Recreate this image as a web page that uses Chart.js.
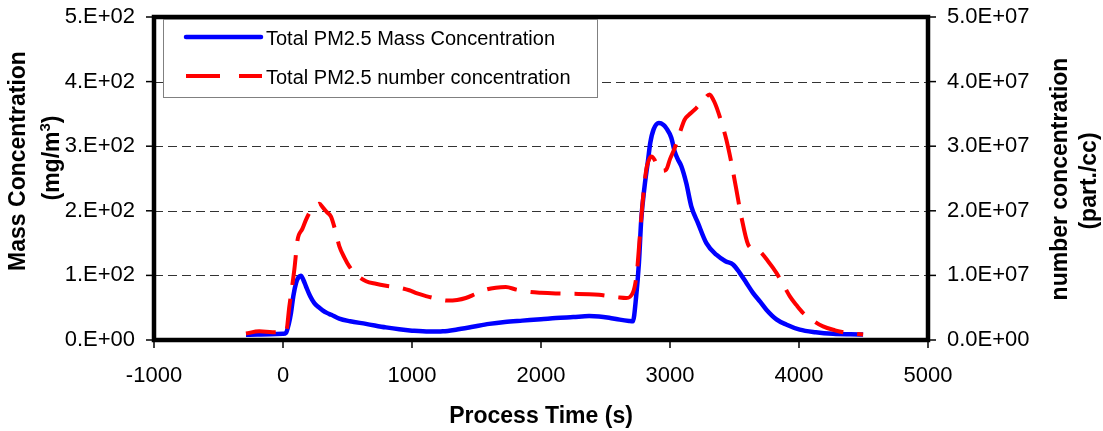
<!DOCTYPE html>
<html>
<head>
<meta charset="utf-8">
<title>PM2.5 mass and number concentration</title>
<script src="https://cdn.jsdelivr.net/npm/chart.js@4/dist/chart.umd.min.js"></script>
<style>
  html, body { margin: 0; padding: 0; background: #ffffff; }
  #wrap { width: 1103px; height: 431px; }
  canvas { display: block; }
</style>
</head>
<body>
<div id="wrap"><canvas id="chart" width="1103" height="431"></canvas></div>
<script>
// Process time (s) and total PM2.5 mass concentration (mg/m3)
const massTime = [-287, -200, -100, 0, 23, 45, 62, 80, 101, 120, 139, 158, 178, 210, 243, 275, 307, 340, 374, 436, 520, 643, 798, 901, 1000, 1133, 1240, 1340, 1460, 1598, 1720, 1856, 2000, 2115, 2250, 2373, 2450, 2528, 2610, 2683, 2712, 2738, 2759, 2777, 2803, 2829, 2847, 2873, 2914, 2950, 2971, 3010, 3036, 3060, 3088, 3126, 3165, 3217, 3282, 3359, 3430, 3488, 3540, 3590, 3643, 3700, 3747, 3825, 3900, 4006, 4130, 4264, 4400, 4497];
const massValue = [8, 8.5, 9, 9.5, 11, 25, 42, 68, 88, 97, 99.5, 93, 83, 68, 57, 51, 46, 42, 39, 33, 29, 25, 19.5, 16.5, 14.5, 13, 13.5, 16, 20, 25, 28, 30, 32, 34, 35.5, 37, 36.5, 34.5, 31.5, 29.5, 29, 68, 119, 186, 238, 277, 305, 326, 336, 333, 328, 313, 292, 280, 269, 243, 207, 181, 150, 132, 122, 117, 104, 89, 73, 59, 47, 32, 24, 16, 12, 9.6, 8.8, 8.5];

// Process time (s) and total PM2.5 number concentration (part./cc)
const numTime = [-287, -184, -81, 23, 49, 88, 113, 150, 178, 205, 230, 255, 282, 310, 340, 372, 405, 437, 475, 514, 570, 644, 720, 799, 902, 979, 1040, 1108, 1190, 1275, 1350, 1417, 1490, 1572, 1650, 1727, 1810, 1908, 2000, 2115, 2250, 2373, 2450, 2528, 2600, 2661, 2712, 2743, 2764, 2785, 2816, 2835, 2855, 2880, 2906, 2940, 2971, 3000, 3036, 3075, 3113, 3160, 3204, 3255, 3307, 3340, 3372, 3405, 3437, 3476, 3514, 3553, 3605, 3650, 3696, 3760, 3825, 3880, 3928, 3980, 4031, 4110, 4186, 4280, 4368, 4440, 4497];
const numValue = [1.0e6, 1.35e6, 1.2e6, 1.2e6, 5.2e6, 1.09e7, 1.55e7, 1.72e7, 1.86e7, 1.97e7, 2.04e7, 2.08e7, 2.11e7, 2.05e7, 1.98e7, 1.91e7, 1.70e7, 1.45e7, 1.28e7, 1.14e7, 1.01e7, 9.1e6, 8.7e6, 8.4e6, 8.1e6, 7.7e6, 7.2e6, 6.8e6, 6.4e6, 6.1e6, 6.2e6, 6.5e6, 7.1e6, 7.8e6, 8.1e6, 8.2e6, 7.8e6, 7.45e6, 7.3e6, 7.2e6, 7.15e6, 7.1e6, 7.0e6, 6.8e6, 6.6e6, 6.5e6, 7.3e6, 1.04e7, 1.55e7, 2.07e7, 2.64e7, 2.78e7, 2.84e7, 2.79e7, 2.66e7, 2.62e7, 2.64e7, 2.80e7, 2.97e7, 3.20e7, 3.41e7, 3.51e7, 3.59e7, 3.70e7, 3.80e7, 3.70e7, 3.54e7, 3.33e7, 3.10e7, 2.74e7, 2.33e7, 1.91e7, 1.48e7, 1.41e7, 1.37e7, 1.22e7, 1.04e7, 8.5e6, 6.8e6, 5.4e6, 4.2e6, 3.0e6, 2.1e6, 1.5e6, 1.1e6, 9.5e5, 8.5e5];

// Axis ranges and tick steps
const timeTicks = [-1000, 0, 1000, 2000, 3000, 4000, 5000];
const massTicks = [0, 100, 200, 300, 400, 500];
const numTicks = [0, 1e7, 2e7, 3e7, 4e7, 5e7];

const massLabel = 'Total PM2.5 Mass Concentration';
const numLabel = 'Total PM2.5 number concentration';

const FONT = '"Liberation Sans", Arial, Helvetica, sans-serif';

// Excel-style scientific tick text: 5.E+02 / 5.0E+07
function sci(v, digits) {
  const parts = v.toExponential(digits).split('e');
  const exp = parseInt(parts[1], 10);
  const sign = exp < 0 ? '-' : '+';
  return parts[0] + (digits === 0 ? '.' : '') + 'E' + sign + String(Math.abs(exp)).padStart(2, '0');
}

const pairs = (xs, ys) => xs.map((x, i) => ({ x: x, y: ys[i] }));

// Keep the plot box fixed: no extra room reserved for edge labels
function noEdgePadding(s) {
  s.paddingTop = 0; s.paddingBottom = 0; s.paddingLeft = 0; s.paddingRight = 0;
}

// Dashed grid, heavy frame, outward ticks, in-plot legend and axis titles
const decor = {
  id: 'decor',
  beforeDraw(chart) {
    const ctx = chart.ctx;
    ctx.save();
    ctx.fillStyle = '#ffffff';
    ctx.fillRect(0, 0, chart.width, chart.height);
    ctx.restore();
  },
  beforeDatasetsDraw(chart) {
    const { ctx, chartArea: a, scales } = chart;
    ctx.save();
    ctx.strokeStyle = '#333333';
    ctx.lineWidth = 1.2;
    ctx.setLineDash([9, 5]);
    massTicks.forEach(v => {
      if (v <= massTicks[0] || v >= massTicks[massTicks.length - 1]) return;
      const y = Math.round(scales.y.getPixelForValue(v)) + 0.5;
      ctx.beginPath();
      ctx.moveTo(a.left, y);
      ctx.lineTo(a.right, y);
      ctx.stroke();
    });
    ctx.restore();
  },
  afterDatasetsDraw(chart) {
    const { ctx, chartArea: a, scales } = chart;
    ctx.save();
    // tick marks
    ctx.strokeStyle = '#000000';
    ctx.lineWidth = 1.5;
    ctx.setLineDash([]);
    massTicks.forEach(v => {
      const y = scales.y.getPixelForValue(v);
      ctx.beginPath(); ctx.moveTo(a.left - 2, y); ctx.lineTo(a.left - 8, y); ctx.stroke();
    });
    numTicks.forEach(v => {
      const y = scales.y2.getPixelForValue(v);
      ctx.beginPath(); ctx.moveTo(a.right + 2, y); ctx.lineTo(a.right + 8, y); ctx.stroke();
    });
    timeTicks.forEach(v => {
      const x = scales.x.getPixelForValue(v);
      ctx.beginPath(); ctx.moveTo(x, a.bottom + 2); ctx.lineTo(x, a.bottom + 8); ctx.stroke();
    });
    // frame
    ctx.lineWidth = 4.5;
    ctx.strokeRect(a.left, a.top, a.right - a.left, a.bottom - a.top);

    // legend box
    const lx = 163.5, ly = 19.5, lw = 434, lh = 78;
    ctx.fillStyle = '#ffffff';
    ctx.fillRect(lx, ly, lw, lh);
    ctx.strokeStyle = '#808080';
    ctx.lineWidth = 1;
    ctx.strokeRect(lx, ly, lw, lh);

    const ds = chart.data.datasets;
    ctx.lineWidth = 4.5;
    ctx.strokeStyle = ds[0].borderColor;
    ctx.lineCap = 'round';
    ctx.beginPath(); ctx.moveTo(186, 37); ctx.lineTo(261, 37); ctx.stroke();
    ctx.lineCap = 'butt';
    ctx.lineWidth = 4;
    ctx.strokeStyle = ds[1].borderColor;
    ctx.setLineDash([34, 19]);
    ctx.beginPath(); ctx.moveTo(186, 76); ctx.lineTo(262, 76); ctx.stroke();
    ctx.setLineDash([]);

    ctx.fillStyle = '#000000';
    ctx.font = '20px ' + FONT;
    ctx.textAlign = 'left';
    ctx.textBaseline = 'alphabetic';
    ctx.fillText(ds[0].label, 266, 45);
    ctx.fillText(ds[1].label, 266, 83.5);
    ctx.restore();
  },
  afterDraw(chart) {
    const ctx = chart.ctx;
    const bold = 'bold 23px ' + FONT;
    ctx.save();
    ctx.fillStyle = '#000000';
    ctx.textBaseline = 'alphabetic';

    // x title
    ctx.font = bold;
    ctx.textAlign = 'center';
    ctx.fillText('Process Time (s)', 541, 423);

    // left title, two lines, reading upward
    ctx.save();
    ctx.translate(25, 161);
    ctx.rotate(-Math.PI / 2);
    ctx.textAlign = 'center';
    ctx.fillText('Mass Concentration', 0, 0);
    ctx.restore();

    ctx.save();
    ctx.translate(58.5, 158);
    ctx.rotate(-Math.PI / 2);
    ctx.textAlign = 'left';
    const supFont = 'bold 15px ' + FONT;
    ctx.font = bold;
    const w1 = ctx.measureText('(mg/m').width;
    const w3 = ctx.measureText(')').width;
    ctx.font = supFont;
    const w2 = ctx.measureText('3').width;
    let x0 = -(w1 + w2 + w3) / 2;
    ctx.font = bold;
    ctx.fillText('(mg/m', x0, 0);
    ctx.font = supFont;
    ctx.fillText('3', x0 + w1, -9);
    ctx.font = bold;
    ctx.fillText(')', x0 + w1 + w2, 0);
    ctx.restore();

    // right title, two lines, reading upward
    ctx.save();
    ctx.font = bold;
    ctx.textAlign = 'center';
    ctx.translate(1067, 179);
    ctx.rotate(-Math.PI / 2);
    ctx.fillText('number concentration', 0, 0);
    ctx.restore();

    ctx.save();
    ctx.font = bold;
    ctx.textAlign = 'center';
    ctx.translate(1096, 181);
    ctx.rotate(-Math.PI / 2);
    ctx.fillText('(part./cc)', 0, 0);
    ctx.restore();

    ctx.restore();
  }
};

const tickFont = { family: FONT, size: 22 };

new Chart(document.getElementById('chart'), {
  type: 'line',
  data: {
    datasets: [
      {
        label: massLabel,
        data: pairs(massTime, massValue),
        yAxisID: 'y',
        borderColor: '#0000ff',
        borderWidth: 4.5,
        pointRadius: 0,
        cubicInterpolationMode: 'monotone',
        fill: false,
        order: 2
      },
      {
        label: numLabel,
        data: pairs(numTime, numValue),
        yAxisID: 'y2',
        borderColor: '#ff0000',
        borderWidth: 4,
        borderDash: [30, 14],
        pointRadius: 0,
        cubicInterpolationMode: 'monotone',
        fill: false,
        order: 1
      }
    ]
  },
  options: {
    responsive: false,
    animation: false,
    devicePixelRatio: 1,
    layout: { padding: { top: 17, left: 0, right: 0, bottom: 0 } },
    plugins: {
      legend: { display: false },
      tooltip: { enabled: false },
      title: { display: false }
    },
    scales: {
      x: {
        type: 'linear',
        min: timeTicks[0],
        max: timeTicks[timeTicks.length - 1],
        afterBuildTicks: s => { s.ticks = timeTicks.map(v => ({ value: v })); },
        ticks: { color: '#000000', font: tickFont, padding: 23, maxRotation: 0, autoSkip: false, callback: v => String(v) },
        grid: { display: false, drawTicks: false },
        border: { display: false },
        afterFit: s => { s.height = 91; noEdgePadding(s); }
      },
      y: {
        type: 'linear',
        position: 'left',
        min: massTicks[0],
        max: massTicks[massTicks.length - 1],
        afterBuildTicks: s => { s.ticks = massTicks.map(v => ({ value: v })); },
        ticks: { color: '#000000', font: tickFont, padding: 19, autoSkip: false, callback: v => sci(v, 0) },
        grid: { display: false, drawTicks: false },
        border: { display: false },
        afterFit: s => { s.width = 154; noEdgePadding(s); }
      },
      y2: {
        type: 'linear',
        position: 'right',
        min: numTicks[0],
        max: numTicks[numTicks.length - 1],
        afterBuildTicks: s => { s.ticks = numTicks.map(v => ({ value: v })); },
        ticks: { color: '#000000', font: tickFont, padding: 19, autoSkip: false, callback: v => sci(v, 1) },
        grid: { display: false, drawTicks: false },
        border: { display: false },
        afterFit: s => { s.width = 175; noEdgePadding(s); }
      }
    }
  },
  plugins: [decor]
});
</script>
</body>
</html>
